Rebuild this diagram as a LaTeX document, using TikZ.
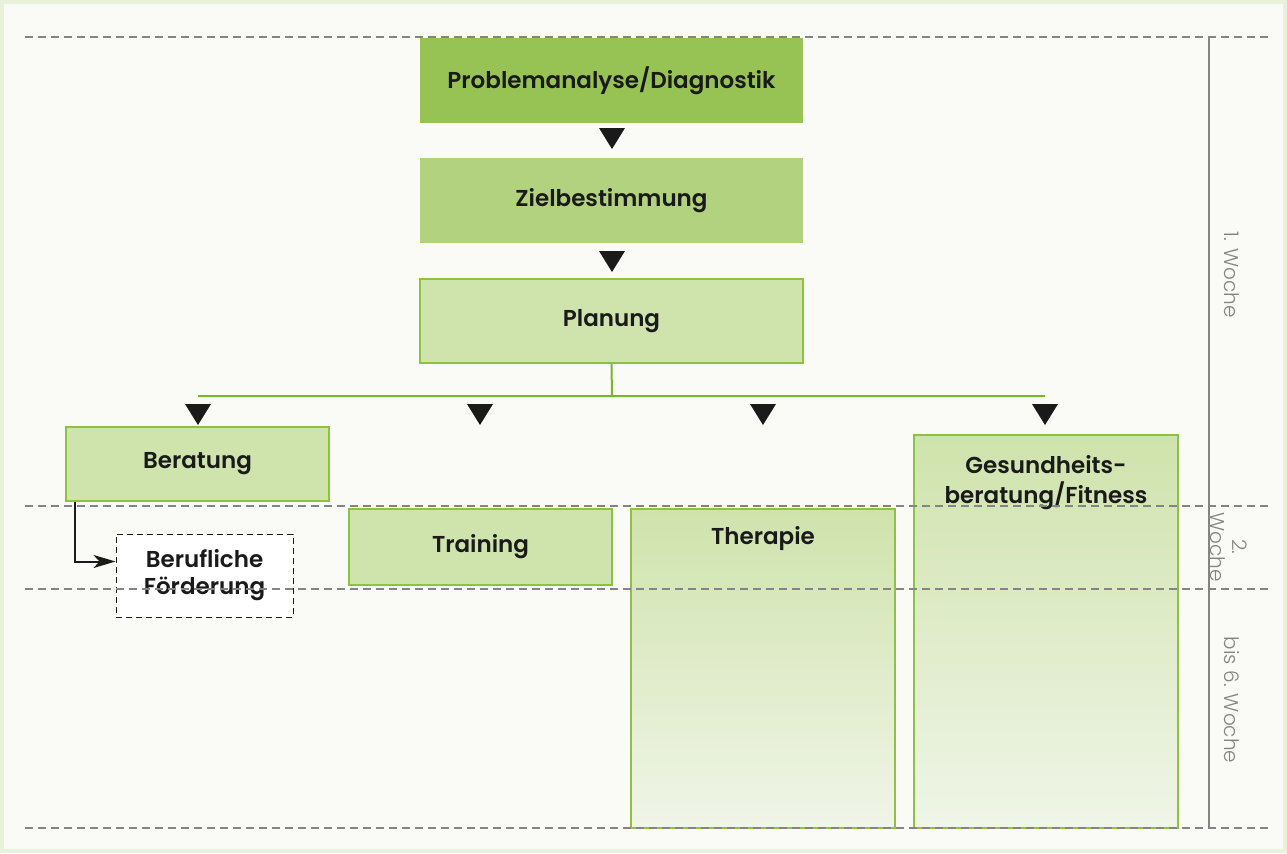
\documentclass[tikz,border=0pt]{standalone}
\usepackage{fontspec}
\setmainfont{Poppins}[BoldFont={Poppins SemiBold}]
\newfontfamily\lightfont{Poppins Light}
\usepackage{tikz}
\usetikzlibrary{arrows.meta,positioning}

\definecolor{frameGreen}{HTML}{E9F1DA}
\definecolor{paper}{HTML}{FAFBF6}
\definecolor{darkGreen}{HTML}{97C355}
\definecolor{midGreen}{HTML}{B3D27F}
\definecolor{lightGreen}{HTML}{CFE3AC}
\definecolor{paleGreen}{HTML}{F0F5E8}
\definecolor{lineGreen}{HTML}{8CC43C}
\definecolor{treeGreen}{HTML}{7AB62C}
\definecolor{weekGray}{HTML}{848484}
\definecolor{ink}{HTML}{1A1A1A}

\begin{document}
\begin{tikzpicture}[x=0.5pt,y=-0.5pt,
  box/.style={rectangle, inner sep=0pt, align=center, text=ink,
    font=\bfseries\fontsize{11.5}{15}\selectfont},
  wide/.style={box, minimum width=191.5pt, minimum height=42.5pt},
  lit/.style={box, fill=lightGreen, draw=lineGreen, line width=0.75pt},
  tall/.style={box, draw=lineGreen, line width=0.75pt,
    top color=lightGreen, bottom color=paleGreen, minimum width=132pt},
  weekline/.style={weekGray, line width=1.2pt, dash pattern=on 4pt off 2.5pt},
  weektext/.style={rotate=-90, text=weekGray, align=center,
    font=\lightfont\fontsize{10}{11}\selectfont},
  tri/.pic={\fill[ink] (-13,0) -- (13,0) -- (0,21) -- cycle;}]

% frame
\fill[frameGreen] (0,0) rectangle (1287,853);
\fill[paper] (4,4) rectangle (1283,849);

% first week
\node[wide, fill=darkGreen] (prob) at (611.5,80.5) {Problemanalyse/Diagnostik};
\node[wide, fill=midGreen] (ziel) at (611.5,200.5) {Zielbestimmung};
\node[wide, lit, minimum height=42pt] (plan) at (611.5,321) {Planung};
\pic at (612,128) {tri};
\pic at (612,251) {tri};

% branches
\draw[treeGreen, line width=1pt] (plan.south) -- (612,396) (198,396) -- (1045,396);
\foreach \x in {198,480,763,1045}
  \pic at (\x,404) {tri};

\node[lit, minimum width=131.5pt, minimum height=37pt] (berat) at (197.5,464) {Beratung};
\node[lit, minimum width=131.5pt, minimum height=38pt] (train) at (480.5,547) {Training};
\node[tall, minimum height=159.5pt,
  label={[box, anchor=center, yshift=-15pt]north:Therapie}] (thera) at (763,668.5) {};
\node[tall, minimum height=196.5pt,
  label={[box, anchor=center, yshift=-24pt]north:Gesundheits-\\beratung/Fitness}] (gesund) at (1046,631.5) {};
\node[box, fill=white, draw=ink, densely dashed, line width=0.5pt,
  minimum width=88.5pt, minimum height=41.5pt,
  font=\bfseries\fontsize{11.5}{13.5}\selectfont] (beruf) at (204.5,575.5) {Berufliche\\Förderung};
\draw[ink, line width=1pt, -{Stealth[length=11pt,width=6.5pt,inset=3pt]}]
  ([xshift=5pt]berat.south west) |- ([yshift=7pt]beruf.west);

% weeks
\foreach \y in {37,506,589,828}
  \draw[weekline] (25,\y) -- (1268,\y);
\draw[weekGray, line width=0.8pt] (1209,37) -- (1209,828);
\node[weektext] (w1) at (1232,275) {1. Woche};
\node[weektext] (w2) at (1229,547) {2.\\Woche};
\node[weektext] (w3) at (1232,700) {bis 6. Woche};
\end{tikzpicture}
\end{document}
